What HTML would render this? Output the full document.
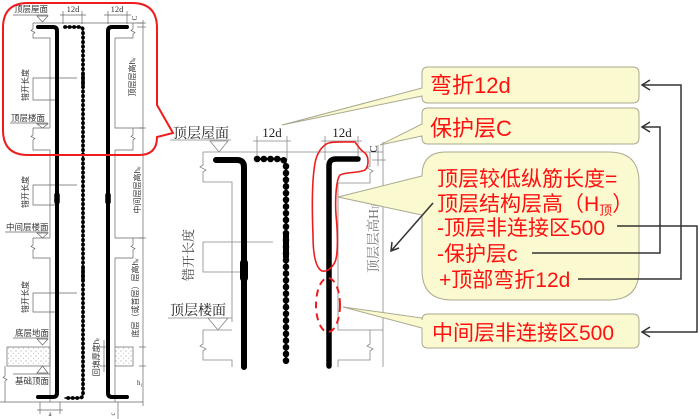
<!DOCTYPE html>
<html><head><meta charset="utf-8">
<style>
html,body{margin:0;padding:0;background:#fff;}
svg{display:block;}
.s{font-family:"Liberation Sans","Noto Sans CJK SC",sans-serif;}
.sf{font-family:"Liberation Serif","Noto Serif CJK SC",serif;}
</style></head>
<body>
<svg width="700" height="419" viewBox="0 0 700 419" xmlns="http://www.w3.org/2000/svg">
<defs>
<pattern id="dots" width="5" height="5" patternUnits="userSpaceOnUse">
<circle cx="1" cy="1" r="0.5" fill="#777"/><circle cx="3.5" cy="3.2" r="0.45" fill="#999"/>
</pattern>
</defs>
<rect width="700" height="419" fill="#fff"/>

<!-- ============ LEFT SMALL DIAGRAM ============ -->
<g stroke="#666" stroke-width="0.7" fill="none">
  <!-- roof -->
  <line x1="13" y1="15" x2="48" y2="15"/>
  <path d="M37 16 L48 16 L42.5 22 Z"/>
  <line x1="33" y1="23" x2="143" y2="23"/>
  <!-- 12d dims -->
  <line x1="60" y1="15" x2="86" y2="15"/>
  <line x1="63" y1="11" x2="63" y2="24"/><line x1="82" y1="11" x2="82" y2="24"/>
  <line x1="104" y1="15" x2="131" y2="15"/>
  <line x1="108" y1="11" x2="108" y2="24"/><line x1="127" y1="11" x2="127" y2="24"/>
  <line x1="137" y1="23" x2="146" y2="23"/><line x1="137" y1="27" x2="146" y2="27"/>
  <!-- left structure -->
  <path d="M33 23 V29 l-2 1.5 l4 2 l-2 1.5 V38 H50 V128"/>
  <line x1="33" y1="128" x2="50" y2="128"/>
  <path d="M33 128 V135 l-2 1.5 l4 2 l-2 1.5 V150 H50 V238"/>
  <line x1="33" y1="238" x2="50" y2="238"/>
  <path d="M33 238 V245 l-2 1.5 l4 2 l-2 1.5 V258 H50 V402"/>
  <!-- right structure -->
  <path d="M133 23 V29 l-2 1.5 l4 2 l-2 1.5 V38 H115 V128 H143"/>
  <path d="M133 128 V135 l-2 1.5 l4 2 l-2 1.5 V150 H115 V238 H143"/>
  <path d="M133 238 V245 l-2 1.5 l4 2 l-2 1.5 V258 H115 V347"/>
  <line x1="115" y1="366" x2="115" y2="402"/>
  <line x1="143" y1="20" x2="143" y2="406"/>
  <line x1="139" y1="128" x2="146" y2="128"/><line x1="139" y1="238" x2="146" y2="238"/>
  <line x1="139" y1="347" x2="146" y2="347"/><line x1="139" y1="366" x2="146" y2="366"/>
  <!-- 错开长度 brackets -->
  <path d="M77 78 H33 V100 H57"/>
  <path d="M77 185 H33 V205 H57"/>
  <path d="M77 293 H33 V312 H57"/>
  <!-- floor markers -->
  <line x1="10" y1="123" x2="48" y2="123"/><path d="M37 124 L48 124 L42.5 128 Z"/>
  <line x1="5" y1="232" x2="48" y2="232"/><path d="M37 233 L48 233 L42.5 238 Z"/>
  <line x1="13" y1="338" x2="48" y2="338"/><path d="M37 339 L48 339 L42.5 345 Z"/>
  <path d="M37 373 L48 373 L42.5 366 Z"/>
  <line x1="13" y1="374" x2="50" y2="374"/>
  <!-- ground -->
  <path d="M5 366 V376 l-2 1.5 l4 2 l-2 1.5 V402"/>
  <line x1="0" y1="402" x2="143" y2="402"/>
  <line x1="100" y1="347" x2="108" y2="347"/><line x1="100" y1="366" x2="108" y2="366"/>
  <line x1="104" y1="340" x2="104" y2="372"/>
  <!-- a / c -->
  <line x1="40" y1="402" x2="40" y2="414"/><line x1="60" y1="402" x2="60" y2="414"/>
  <line x1="37" y1="410" x2="63" y2="410"/>
  <line x1="118" y1="402" x2="118" y2="419"/>
</g>
<rect x="7" y="347" width="43" height="19" fill="url(#dots)" stroke="#666" stroke-width="0.7"/>
<rect x="115" y="347" width="18" height="19" fill="url(#dots)" stroke="#666" stroke-width="0.7"/>

<!-- small bars -->
<g fill="none" stroke="#000" stroke-linecap="round" stroke-linejoin="round">
  <path d="M38 27 H53 Q57 27 57 31 V393 Q57 397 53 397 H38" stroke-width="4"/>
  <path d="M127 27 H112 Q108 27 108 31 V393 Q108 397 112 397 H127" stroke-width="4"/>
  <line x1="57" y1="195" x2="57" y2="202" stroke-width="5.5"/>
  <line x1="108" y1="195" x2="108" y2="202" stroke-width="5.5"/>
  <path d="M65 27 H80 Q83 27 83 31 V394 Q83 398 79 398 H65" stroke-width="1.5"/>
  <path d="M65 27 H80 Q83 27 83 31 V394 Q83 398 79 398 H65" stroke-width="3.8" stroke-dasharray="0.3 4.2"/>
  <line x1="83" y1="74" x2="83" y2="87" stroke-width="3.5"/>
  <line x1="83" y1="268" x2="83" y2="280" stroke-width="3.5"/>
</g>

<!-- small labels -->
<g class="s" font-size="8.5" fill="#333">
  <text x="14" y="12">顶层屋面</text>
  <text x="11" y="121">顶层楼面</text>
  <text x="6" y="230">中间层楼面</text>
  <text x="15" y="336">底层地面</text>
  <text x="15" y="384">基础顶面</text>
</g>
<g class="sf" font-size="8.5" fill="#333" text-anchor="middle">
  <text x="73" y="12">12d</text>
  <text x="117" y="12">12d</text>
  <text x="50" y="416" font-size="7">a</text>
  <text x="140" y="385" font-size="7">h₁</text>
  <text transform="translate(137,18) rotate(-90)" font-size="7">C</text>
  <text transform="translate(115,414) rotate(-90)" font-size="7">c</text>
</g>
<g class="s" font-size="8" fill="#333" text-anchor="middle">
  <text transform="translate(28,85) rotate(-90)">错开长度</text>
  <text transform="translate(28,192) rotate(-90)">错开长度</text>
  <text transform="translate(28,297) rotate(-90)">错开长度</text>
  <text transform="translate(135,77) rotate(-90)">顶层层高hᵥ</text>
  <text transform="translate(140,190) rotate(-90)">中间层层高hᵥ</text>
  <text transform="translate(138,298) rotate(-90)">底层（或首层）层高hᵥ</text>
  <text transform="translate(99,357) rotate(-90)">回填厚度hᵣ</text>
</g>

<!-- red bubble -->
<path d="M28 3 H132 Q157 3 157 28 V105 L173 133 L157 137 Q157 155 139 155 H28 Q3 155 3 130 V28 Q3 3 28 3 Z" fill="none" stroke="#ee1c1c" stroke-width="2"/>

<!-- ============ RIGHT LARGE DIAGRAM ============ -->
<g stroke="#888" stroke-width="0.8" fill="none">
  <line x1="170" y1="140" x2="231" y2="140"/>
  <path d="M210 141 L228 141 L219 152 Z"/>
  <line x1="203" y1="152" x2="383" y2="152"/>
  <!-- 12d dims -->
  <line x1="253" y1="141" x2="291" y2="141"/>
  <line x1="257" y1="136" x2="257" y2="160"/><line x1="287" y1="136" x2="287" y2="160"/>
  <line x1="321" y1="141" x2="362" y2="141"/>
  <line x1="325" y1="136" x2="325" y2="160"/><line x1="358" y1="136" x2="358" y2="160"/>
  <!-- C dims -->
  <line x1="372" y1="160" x2="386" y2="160"/>
  <line x1="378" y1="145" x2="378" y2="166"/>
  <line x1="383" y1="142" x2="383" y2="367"/>
  <!-- left structure -->
  <path d="M203 152 V165 l-3 2 l6 3 l-3 2 V182 H232 V322"/>
  <line x1="168" y1="318" x2="232" y2="318"/>
  <path d="M208 318 L228 318 L218 330 Z"/>
  <line x1="203" y1="330" x2="232" y2="330"/>
  <path d="M203 330 V344 l-3 2 l6 3 l-3 2 V360 H232 V367"/>
  <!-- right structure -->
  <path d="M370 152 V166 l-3 2 l6 3 l-3 2 V183 H338 V330 H383"/>
  <path d="M370 330 V344 l-3 2 l6 3 l-3 2 V360 H338 V367"/>
  <!-- 错开长度 bracket -->
  <path d="M273 242 H203 V272 H242"/>
</g>
<!-- bars -->
<g fill="none" stroke="#000" stroke-linecap="round" stroke-linejoin="round">
  <path d="M216 160 H237 Q244 160 244 167 V367" stroke-width="6"/>
  <line x1="244" y1="263" x2="244" y2="278" stroke-width="8"/>
  <path d="M358 159 H336 Q329 159 329 166 V366" stroke-width="5.5"/>
  <path d="M257 159 H279 Q286 159 286 166 V363" stroke-width="2"/>
  <path d="M257 159 H279 Q286 159 286 166 V363" stroke-width="6.5" stroke-dasharray="0.3 6.4"/>
  <line x1="286" y1="233" x2="286" y2="257" stroke-width="6"/>
</g>
<!-- red marks -->
<path d="M325 145 C329 141 340 142 355 142 C358 146 360 150 365 153 C369 157 369 166 365 170 C360 173 345 172 340 175 C336 180 335 200 336 215 C338 235 338 255 335 262 C332 268 327 272 322 271 C316 268 313 255 313 235 C312 210 312 180 315 163 C317 153 321 148 325 145 Z" fill="none" stroke="#ee1c1c" stroke-width="1.6"/>
<ellipse cx="328" cy="305" rx="12" ry="27" fill="none" stroke="#ee1c1c" stroke-width="2" stroke-dasharray="7 5"/>

<!-- large labels -->
<g class="sf" fill="#222">
  <text x="173" y="138" font-size="14">顶层屋面</text>
  <text x="170" y="315" font-size="14">顶层楼面</text>
  <text x="272" y="137" font-size="13" text-anchor="middle">12d</text>
  <text x="342" y="137" font-size="13" text-anchor="middle">12d</text>
  <text transform="translate(377,149) rotate(-90)" font-size="11" text-anchor="middle">C</text>
  <text transform="translate(193,255) rotate(-90)" font-size="13" text-anchor="middle" fill="#444">错开长度</text>
  <text transform="translate(378,237) rotate(-90)" font-size="13.5" text-anchor="middle" fill="#777">顶层层高H<tspan font-size="8">顶</tspan></text>
</g>

<!-- ============ CALLOUTS ============ -->
<g fill="#fbf9cf" stroke="#a9a98f" stroke-width="1">
  <path d="M428 67 H633 Q639 67 639 73 V97 Q639 103 633 103 H428 Q422 103 422 97 V96 L282 125 L422 88 V73 Q422 67 428 67 Z"/>
  <path d="M428 108 H633 Q639 108 639 114 V138 Q639 144 633 144 H428 Q422 144 422 138 V136 L380 145 L422 124 V114 Q422 108 428 108 Z"/>
  <path d="M446 152 H609 Q639 152 639 182 V270 Q639 300 609 300 H452 Q422 300 422 270 V215 L338 197 L422 176 Q422 152 446 152 Z"/>
  <path d="M428 314 H633 Q639 314 639 320 V342 Q639 348 633 348 H428 Q422 348 422 342 V328 L343 307 L422 318 V320 Q422 314 428 314 Z"/>
</g>
<g class="s" fill="#ff1010">
  <text x="430" y="93" font-size="22">弯折12d</text>
  <text x="430" y="136" font-size="22">保护层C</text>
  <text x="437" y="186" font-size="21">顶层较低纵筋长度=</text>
  <text x="437" y="211" font-size="21">顶层结构层高（H<tspan font-size="13" dy="4">顶</tspan><tspan dy="-4">）</tspan></text>
  <text x="437" y="235" font-size="21">-顶层非连接区500</text>
  <text x="437" y="261" font-size="21">-保护层c</text>
  <text x="439" y="287" font-size="21">+顶部弯折12d</text>
  <text x="432" y="340" font-size="21">中间层非连接区500</text>
</g>

<!-- connectors -->
<g fill="none" stroke="#333" stroke-width="1.5">
  <path d="M578 279 H681 V85 H642"/>
  <path d="M650 80 L642 85 L650 90"/>
  <path d="M532 253 H660 V127 H642"/>
  <path d="M650 122 L642 127 L650 132"/>
  <path d="M617 226 H697 V332 H642"/>
  <path d="M650 327 L642 332 L650 337"/>
  <line x1="433" y1="203" x2="391" y2="251"/>
  <path d="M392 242 L391 251 L399 248"/>
</g>
</svg>
</body></html>
